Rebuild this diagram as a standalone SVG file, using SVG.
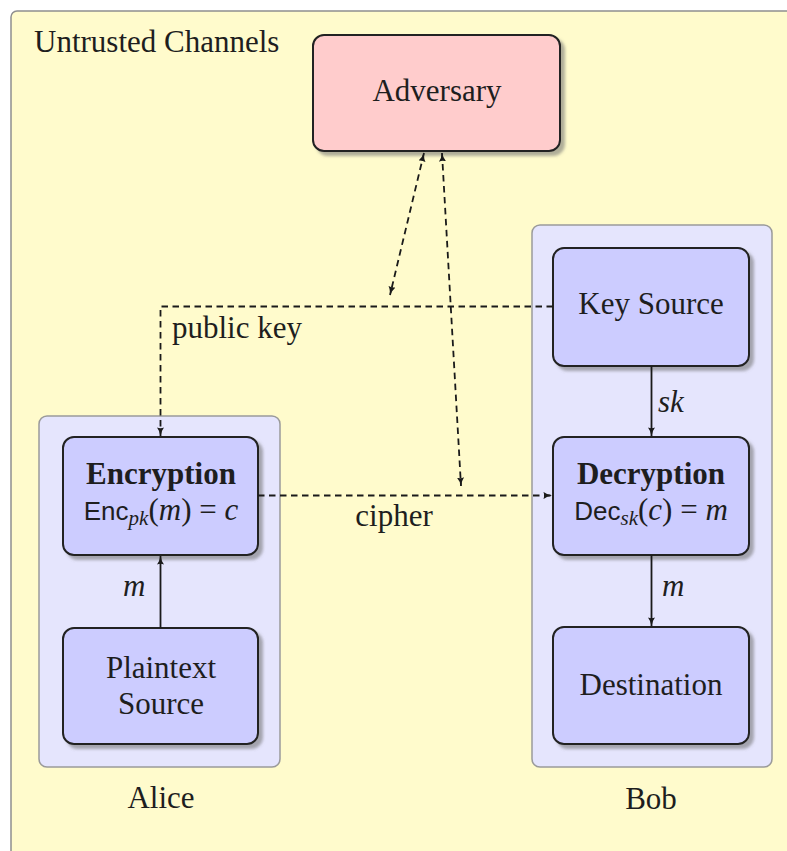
<svg xmlns="http://www.w3.org/2000/svg" width="787" height="851" viewBox="0 0 787 851">
  <defs>
    <filter id="shadow" x="-10%" y="-10%" width="130%" height="130%">
      <feDropShadow dx="4" dy="4" stdDeviation="1.6" flood-color="#6e6e6e" flood-opacity="0.55"/>
    </filter>
    <marker id="arrow" viewBox="0 0 10 8" refX="9.5" refY="4" markerWidth="9" markerHeight="7.2" markerUnits="userSpaceOnUse" orient="auto-start-reverse">
      <path d="M0,0 Q4,3.2 10,4 Q4,4.8 0,8 Q1.5,4 0,0 z" fill="#1a1a1a"/>
    </marker>
    <style>
      .region { fill: #fffbcc; stroke: #8f8f8f; stroke-width: 1.5; }
      .party { fill: #e5e5fd; stroke: #9a9a9a; stroke-width: 1.5; }
      .box { fill: #ccccff; stroke: #222; stroke-width: 2; filter: url(#shadow); }
      .adv { fill: #ffcccc; stroke: #222; stroke-width: 2; filter: url(#shadow); }
      text { font-family: 'Liberation Serif', serif; font-size: 31px; fill: #1e1e1e; }
      .c { text-anchor: middle; }
      .b { font-weight: bold; }
      .i { font-style: italic; }
      .sf { font-family: 'Liberation Sans', sans-serif; font-size: 26px; }
      .sub { font-style: italic; font-size: 21px; }
      .solid { fill: none; stroke: #1a1a1a; stroke-width: 1.8; }
      .dash { fill: none; stroke: #1a1a1a; stroke-width: 1.8; stroke-dasharray: 6.5 4.5; }
    </style>
  </defs>

  <rect width="787" height="851" fill="#ffffff"/>

  <!-- untrusted channel area -->
  <g id="untrusted">
    <rect class="region" x="11" y="11" width="800" height="860" rx="6"/>
    <text x="34" y="52">Untrusted Channels</text>
  </g>

  <!-- party containers -->
  <g id="alice">
    <rect class="party" x="39" y="416" width="241" height="351" rx="8"/>
    <text class="c" x="161" y="808">Alice</text>
  </g>
  <g id="bob">
    <rect class="party" x="532" y="225" width="240" height="542" rx="8"/>
    <text class="c" x="651" y="809">Bob</text>
  </g>

  <!-- nodes -->
  <g id="adversary">
    <rect class="adv" x="313" y="35" width="247" height="116" rx="11"/>
    <text class="c" x="437" y="101">Adversary</text>
  </g>
  <g id="encryption">
    <rect class="box" x="63" y="437" width="195" height="118" rx="11"/>
    <text class="c b" x="161" y="484">Encryption</text>
    <text class="c" x="161" y="520"><tspan class="sf">Enc</tspan><tspan class="sub" dy="5">pk</tspan><tspan dy="-5">(</tspan><tspan class="i">m</tspan><tspan>) = </tspan><tspan class="i">c</tspan></text>
  </g>
  <g id="plaintext">
    <rect class="box" x="63" y="628" width="195" height="116" rx="11"/>
    <text class="c" x="161" y="678">Plaintext</text>
    <text class="c" x="161" y="714">Source</text>
  </g>
  <g id="keysource">
    <rect class="box" x="553" y="248" width="196" height="118" rx="11"/>
    <text class="c" x="651" y="314">Key Source</text>
  </g>
  <g id="decryption">
    <rect class="box" x="553" y="437" width="196" height="118" rx="11"/>
    <text class="c b" x="651" y="484">Decryption</text>
    <text class="c" x="651" y="520"><tspan class="sf">Dec</tspan><tspan class="sub" dy="5">sk</tspan><tspan dy="-5">(</tspan><tspan class="i">c</tspan><tspan>) = </tspan><tspan class="i">m</tspan></text>
  </g>
  <g id="destination">
    <rect class="box" x="553" y="627" width="196" height="117" rx="11"/>
    <text class="c" x="651" y="695">Destination</text>
  </g>

  <!-- connectors -->
  <g id="connectors">
    <path class="dash" d="M553,306.5 H160.5 V436" marker-end="url(#arrow)"/>
    <text x="172" y="338">public key</text>

    <path class="dash" d="M258,495.5 H552" marker-end="url(#arrow)"/>
    <text class="c" x="394" y="526">cipher</text>

    <path class="dash" d="M424,153 L390,295" marker-start="url(#arrow)" marker-end="url(#arrow)"/>
    <path class="dash" d="M442,153 L461,486" marker-start="url(#arrow)" marker-end="url(#arrow)"/>

    <path class="solid" d="M651.5,366 V436" marker-end="url(#arrow)"/>
    <text class="i" x="658" y="412">sk</text>

    <path class="solid" d="M160.5,628 V556" marker-end="url(#arrow)"/>
    <text class="i" x="123" y="596">m</text>

    <path class="solid" d="M651.5,555 V626" marker-end="url(#arrow)"/>
    <text class="i" x="662" y="596">m</text>
  </g>
</svg>
